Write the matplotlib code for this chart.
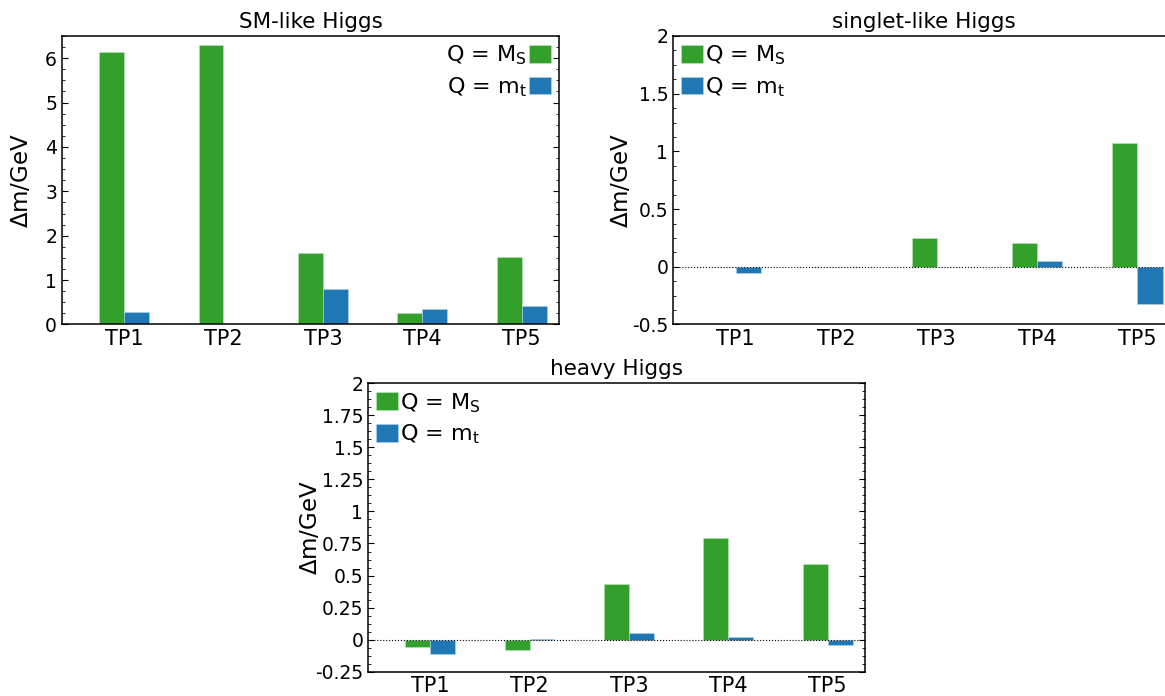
import matplotlib
matplotlib.use('Agg')
import matplotlib.pyplot as plt
import numpy as np
from matplotlib.ticker import MultipleLocator, AutoMinorLocator, FormatStrFormatter

labels = ['TP1', 'TP2', 'TP3', 'TP4', 'TP5']

# SM-like Higgs
sm_MS = [6.13, 6.29, 1.61, 0.26, 1.51]
sm_mt = [0.27, 0.0, 0.79, 0.35, 0.41]
# singlet-like Higgs
singlet_MS = [-0.004, -0.003, 0.25, 0.21, 1.07]
singlet_mt = [-0.052, -0.004, -0.004, 0.052, -0.32]
# heavy Higgs
heavy_MS = [-0.06, -0.083, 0.434, 0.795, 0.592]
heavy_mt = [-0.112, 0.008, 0.055, 0.023, -0.042]

green = '#33a02c'
blue = '#1f78b4'

plt.rcParams['font.family'] = 'DejaVu Sans'
plt.rcParams['mathtext.default'] = 'regular'

fig = plt.figure(figsize=(11.65, 6.96), dpi=100)


def panel(rect, ms, mt, title, ylim, major, legloc, markerfirst, zeroline, labx):
    ax = fig.add_axes(rect)
    x = np.arange(len(labels))
    w = 0.25
    ax.bar(x - w / 2, ms, w, color=green, edgecolor='#bfe3bb', linewidth=0.4,
           label=r'Q = M$_\mathregular{S}$', zorder=2)
    ax.bar(x + w / 2, mt, w, color=blue, edgecolor='#b5d3ea', linewidth=0.4,
           label=r'Q = m$_\mathregular{t}$', zorder=2)
    if zeroline:
        ax.axhline(0, color='black', linestyle=':', linewidth=0.8, zorder=3)
    ax.set_xlim(-0.625, 4.375)
    ax.set_ylim(*ylim)
    ax.set_xticks(x)
    ax.set_xticklabels(labels, fontsize=15)
    ax.yaxis.set_major_locator(MultipleLocator(major))
    ax.yaxis.set_minor_locator(AutoMinorLocator(4))
    ax.yaxis.set_major_formatter(FormatStrFormatter('%g'))
    ax.tick_params(axis='y', which='both', direction='in', left=True, right=True, labelsize=13.5)
    ax.tick_params(axis='y', which='major', length=4)
    ax.tick_params(axis='y', which='minor', length=2)
    ax.tick_params(axis='x', length=0, pad=3)
    for s in ax.spines.values():
        s.set_linewidth(1.1)
    ax.set_title(title, fontsize=15.5, pad=6)
    ax.set_ylabel(r'$\Delta$m/GeV', fontsize=16.5)
    ax.yaxis.set_label_coords(labx, 0.5)
    ax.legend(loc=legloc, frameon=False, fontsize=16, markerfirst=markerfirst,
              handlelength=1.0, handleheight=0.85, handletextpad=0.1,
              labelspacing=0.35, borderaxespad=0.15, borderpad=0.2)
    return ax


panel([0.0532, 0.5338, 0.4266, 0.4145], sm_MS, sm_mt, 'SM-like Higgs',
      (0, 6.5), 1, 'upper right', False, False, -0.058)
panel([0.5777, 0.5338, 0.4310, 0.4145], singlet_MS, singlet_mt, 'singlet-like Higgs',
      (-0.5, 2), 0.5, 'upper left', True, True, -0.08)
panel([0.3159, 0.0349, 0.4266, 0.4145], heavy_MS, heavy_mt, 'heavy Higgs',
      (-0.25, 2), 0.25, 'upper left', True, True, -0.093)

fig.savefig('out.png', dpi=100)
